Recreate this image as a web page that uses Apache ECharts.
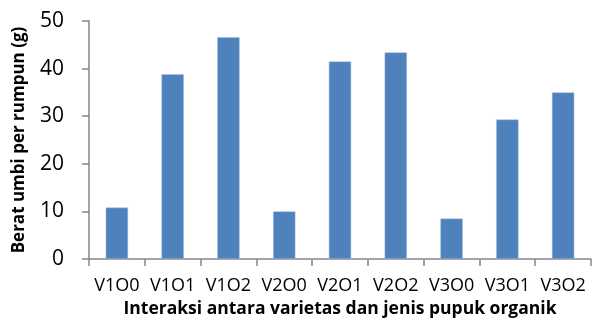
<!DOCTYPE html>
<html>
<head>
<meta charset="utf-8">
<script src="https://cdn.jsdelivr.net/npm/echarts@6/dist/echarts.min.js"></script>
<style>
  html, body { margin: 0; padding: 0; background: #ffffff; }
  #chart { width: 593px; height: 320px; }
</style>
</head>
<body>
<div id="chart"></div>
<script>
// Treatment combinations (variety x organic fertilizer)
const categories = ['V1O0', 'V1O1', 'V1O2', 'V2O0', 'V2O1', 'V2O2', 'V3O0', 'V3O1', 'V3O2'];
// Bulb weight per clump (g)
const bulbWeight = [10.8, 38.8, 46.6, 10.0, 41.5, 43.4, 8.5, 29.3, 35.0];
// Value axis ticks
const yTicks = [0, 10, 20, 30, 40, 50];

const axisGray = '#868686';
const font = '"Open Sans", "Noto Sans", sans-serif';

const chart = echarts.init(document.getElementById('chart'), null, { renderer: 'canvas' });
chart.setOption({
  animation: false,
  backgroundColor: '#ffffff',
  grid: { left: 89, right: 2, top: 21, bottom: 61, containLabel: false, outerBoundsMode: 'none' },
  xAxis: {
    type: 'category',
    data: categories,
    name: 'Interaksi antara varietas dan jenis pupuk organik',
    nameLocation: 'middle',
    nameGap: 37,
    nameTextStyle: { fontFamily: font, fontWeight: 'bold', fontSize: 17.5, color: '#000' },
    axisLine: { lineStyle: { color: axisGray, width: 1.5 } },
    axisTick: { show: true, length: 7, lineStyle: { color: axisGray, width: 1.5 } },
    axisLabel: { fontFamily: font, fontSize: 18, color: '#000', margin: 18, interval: 0 }
  },
  yAxis: {
    type: 'value',
    min: yTicks[0],
    max: yTicks[yTicks.length - 1],
    interval: 10,
    name: 'Berat umbi per rumpun (g)',
    nameLocation: 'middle',
    nameRotate: 90,
    nameGap: 61,
    nameTextStyle: { fontFamily: font, fontWeight: 'bold', fontSize: 17, color: '#000' },
    splitLine: { show: false },
    axisLine: { show: true, lineStyle: { color: axisGray, width: 1.5 } },
    axisTick: { show: true, length: 7, lineStyle: { color: axisGray, width: 1.5 } },
    axisLabel: { fontFamily: font, fontSize: 21, color: '#000', margin: 25 }
  },
  series: [{
    type: 'bar',
    data: bulbWeight,
    barWidth: '40%',
    itemStyle: { color: '#4F81BD', borderColor: '#A7BFDE', borderWidth: 0.5 }
  }]
});
</script>
</body>
</html>
